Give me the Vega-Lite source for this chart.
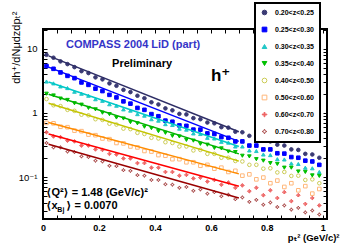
{
"$schema":"https://vega.github.io/schema/vega-lite/v6.json",
"width":284,"height":190,
"autosize":{"type":"none"},
"padding":{"left":43,"top":29,"right":18,"bottom":27},
"background":"white",
"config":{
"view":{"stroke":"black","strokeWidth":2},
"font":"Liberation Sans, Arial, DejaVu Sans",
"axis":{"domain":false,"grid":false,"tickColor":"black","labelColor":"black","titleColor":"black","tickWidth":1},
"legend":{"strokeColor":"black","strokeWidth":2,"fillColor":"white","padding":6,"symbolSize":22,"symbolStrokeWidth":1,"labelFontSize":7,"labelFontWeight":"bold","labelOffset":7,"rowPadding":8}
},
"datasets":{
"pts":[
{"z":"a","x":0.0125,"y":8.1},{"z":"a","x":0.0375,"y":7.3},{"z":"a","x":0.0625,"y":6.4},{"z":"a","x":0.0875,"y":5.8},{"z":"a","x":0.1125,"y":5.2},{"z":"a","x":0.1375,"y":4.5},{"z":"a","x":0.1625,"y":4.2},{"z":"a","x":0.1875,"y":3.6},{"z":"a","x":0.2125,"y":3.35},{"z":"a","x":0.2375,"y":2.9},{"z":"a","x":0.2625,"y":2.66},{"z":"a","x":0.2875,"y":2.3},{"z":"a","x":0.3125,"y":2.12},{"z":"a","x":0.3375,"y":1.86},{"z":"a","x":0.3625,"y":1.7},{"z":"a","x":0.3875,"y":1.47},{"z":"a","x":0.4125,"y":1.36},{"z":"a","x":0.4375,"y":1.18},{"z":"a","x":0.4625,"y":1.1},{"z":"a","x":0.4875,"y":0.97},{"z":"a","x":0.5125,"y":0.95},{"z":"a","x":0.5375,"y":0.83},{"z":"a","x":0.5625,"y":0.8},{"z":"a","x":0.5875,"y":0.71},{"z":"a","x":0.6125,"y":0.69},{"z":"a","x":0.6375,"y":0.6},{"z":"a","x":0.6625,"y":0.59},{"z":"a","x":0.6875,"y":0.51},{"z":"a","x":0.7125,"y":0.5},{"z":"a","x":0.7375,"y":0.44},{"z":"a","x":0.7625,"y":0.43},{"z":"a","x":0.7875,"y":0.37},{"z":"a","x":0.8125,"y":0.36},{"z":"a","x":0.8375,"y":0.32},{"z":"a","x":0.8625,"y":0.31},{"z":"a","x":0.8875,"y":0.27},{"z":"a","x":0.9125,"y":0.265},{"z":"a","x":0.9375,"y":0.23},{"z":"a","x":0.9625,"y":0.225},{"z":"a","x":0.9875,"y":0.2},
{"z":"b","x":0.0125,"y":5.4},{"z":"b","x":0.0375,"y":4.9},{"z":"b","x":0.0625,"y":4.3},{"z":"b","x":0.0875,"y":3.8},{"z":"b","x":0.1125,"y":3.5},{"z":"b","x":0.1375,"y":3.0},{"z":"b","x":0.1625,"y":2.75},{"z":"b","x":0.1875,"y":2.4},{"z":"b","x":0.2125,"y":2.2},{"z":"b","x":0.2375,"y":1.92},{"z":"b","x":0.2625,"y":1.75},{"z":"b","x":0.2875,"y":1.52},{"z":"b","x":0.3125,"y":1.4},{"z":"b","x":0.3375,"y":1.2},{"z":"b","x":0.3625,"y":1.12},{"z":"b","x":0.3875,"y":0.96},{"z":"b","x":0.4125,"y":0.89},{"z":"b","x":0.4375,"y":0.76},{"z":"b","x":0.4625,"y":0.73},{"z":"b","x":0.4875,"y":0.64},{"z":"b","x":0.5125,"y":0.63},{"z":"b","x":0.5375,"y":0.55},{"z":"b","x":0.5625,"y":0.55},{"z":"b","x":0.5875,"y":0.48},{"z":"b","x":0.6125,"y":0.47},{"z":"b","x":0.6375,"y":0.42},{"z":"b","x":0.6625,"y":0.41},{"z":"b","x":0.6875,"y":0.36},{"z":"b","x":0.7125,"y":0.36},{"z":"b","x":0.7375,"y":0.31},{"z":"b","x":0.7625,"y":0.31},{"z":"b","x":0.7875,"y":0.27},{"z":"b","x":0.8125,"y":0.27},{"z":"b","x":0.8375,"y":0.235},{"z":"b","x":0.8625,"y":0.232},{"z":"b","x":0.8875,"y":0.205},{"z":"b","x":0.9125,"y":0.2},{"z":"b","x":0.9375,"y":0.18},{"z":"b","x":0.9625,"y":0.175},{"z":"b","x":0.9875,"y":0.155},
{"z":"c","x":0.0125,"y":3.1},{"z":"c","x":0.0375,"y":2.9},{"z":"c","x":0.0625,"y":2.6},{"z":"c","x":0.0875,"y":2.45},{"z":"c","x":0.1125,"y":2.15},{"z":"c","x":0.1375,"y":2.0},{"z":"c","x":0.1625,"y":1.86},{"z":"c","x":0.1875,"y":1.64},{"z":"c","x":0.2125,"y":1.55},{"z":"c","x":0.2375,"y":1.37},{"z":"c","x":0.2625,"y":1.3},{"z":"c","x":0.2875,"y":1.14},{"z":"c","x":0.3125,"y":1.09},{"z":"c","x":0.3375,"y":0.96},{"z":"c","x":0.3625,"y":0.91},{"z":"c","x":0.3875,"y":0.8},{"z":"c","x":0.4125,"y":0.76},{"z":"c","x":0.4375,"y":0.67},{"z":"c","x":0.4625,"y":0.65},{"z":"c","x":0.4875,"y":0.57},{"z":"c","x":0.5125,"y":0.55},{"z":"c","x":0.5375,"y":0.48},{"z":"c","x":0.5625,"y":0.47},{"z":"c","x":0.5875,"y":0.41},{"z":"c","x":0.6125,"y":0.4},{"z":"c","x":0.6375,"y":0.355},{"z":"c","x":0.6625,"y":0.345},{"z":"c","x":0.6875,"y":0.3},{"z":"c","x":0.7125,"y":0.3},{"z":"c","x":0.7375,"y":0.26},{"z":"c","x":0.7625,"y":0.255},{"z":"c","x":0.7875,"y":0.225},{"z":"c","x":0.8125,"y":0.22},{"z":"c","x":0.8375,"y":0.19},{"z":"c","x":0.8625,"y":0.188},{"z":"c","x":0.8875,"y":0.163},{"z":"c","x":0.9125,"y":0.16},{"z":"c","x":0.9375,"y":0.14},{"z":"c","x":0.9625,"y":0.137},{"z":"c","x":0.9875,"y":0.12},
{"z":"d","x":0.0125,"y":2.0},{"z":"d","x":0.0375,"y":1.88},{"z":"d","x":0.0625,"y":1.68},{"z":"d","x":0.0875,"y":1.6},{"z":"d","x":0.1125,"y":1.42},{"z":"d","x":0.1375,"y":1.35},{"z":"d","x":0.1625,"y":1.2},{"z":"d","x":0.1875,"y":1.14},{"z":"d","x":0.2125,"y":1.01},{"z":"d","x":0.2375,"y":0.96},{"z":"d","x":0.2625,"y":0.85},{"z":"d","x":0.2875,"y":0.82},{"z":"d","x":0.3125,"y":0.72},{"z":"d","x":0.3375,"y":0.69},{"z":"d","x":0.3625,"y":0.61},{"z":"d","x":0.3875,"y":0.58},{"z":"d","x":0.4125,"y":0.52},{"z":"d","x":0.4375,"y":0.49},{"z":"d","x":0.4625,"y":0.44},{"z":"d","x":0.4875,"y":0.43},{"z":"d","x":0.5125,"y":0.38},{"z":"d","x":0.5375,"y":0.37},{"z":"d","x":0.5625,"y":0.33},{"z":"d","x":0.5875,"y":0.32},{"z":"d","x":0.6125,"y":0.285},{"z":"d","x":0.6375,"y":0.28},{"z":"d","x":0.6625,"y":0.25},{"z":"d","x":0.6875,"y":0.245},{"z":"d","x":0.7125,"y":0.215},{"z":"d","x":0.7375,"y":0.21},{"z":"d","x":0.7625,"y":0.19},{"z":"d","x":0.7875,"y":0.18},{"z":"d","x":0.8125,"y":0.165},{"z":"d","x":0.8375,"y":0.16},{"z":"d","x":0.8625,"y":0.14},{"z":"d","x":0.8875,"y":0.14},{"z":"d","x":0.9125,"y":0.122},{"z":"d","x":0.9375,"y":0.12},{"z":"d","x":0.9625,"y":0.106},{"z":"d","x":0.9875,"y":0.104},
{"z":"e","x":0.0125,"y":1.65},{"z":"e","x":0.0375,"y":1.32},{"z":"e","x":0.0625,"y":1.28},{"z":"e","x":0.0875,"y":1.12},{"z":"e","x":0.1125,"y":1.08},{"z":"e","x":0.1375,"y":0.94},{"z":"e","x":0.1625,"y":0.92},{"z":"e","x":0.1875,"y":0.8},{"z":"e","x":0.2125,"y":0.78},{"z":"e","x":0.2375,"y":0.68},{"z":"e","x":0.2625,"y":0.66},{"z":"e","x":0.2875,"y":0.57},{"z":"e","x":0.3125,"y":0.56},{"z":"e","x":0.3375,"y":0.49},{"z":"e","x":0.3625,"y":0.47},{"z":"e","x":0.3875,"y":0.41},{"z":"e","x":0.4125,"y":0.4},{"z":"e","x":0.4375,"y":0.35},{"z":"e","x":0.4625,"y":0.34},{"z":"e","x":0.4875,"y":0.3},{"z":"e","x":0.5125,"y":0.3},{"z":"e","x":0.5375,"y":0.26},{"z":"e","x":0.5625,"y":0.265},{"z":"e","x":0.5875,"y":0.23},{"z":"e","x":0.6125,"y":0.23},{"z":"e","x":0.6375,"y":0.2},{"z":"e","x":0.6625,"y":0.2},{"z":"e","x":0.6875,"y":0.178},{"z":"e","x":0.7125,"y":0.175},{"z":"e","x":0.7375,"y":0.155},{"z":"e","x":0.7625,"y":0.155},{"z":"e","x":0.7875,"y":0.135},{"z":"e","x":0.8125,"y":0.137},{"z":"e","x":0.8375,"y":0.118},{"z":"e","x":0.8625,"y":0.12},{"z":"e","x":0.8875,"y":0.104},{"z":"e","x":0.9125,"y":0.105},{"z":"e","x":0.9375,"y":0.09},{"z":"e","x":0.9625,"y":0.092},{"z":"e","x":0.9875,"y":0.08},
{"z":"f","x":0.0125,"y":0.7},{"z":"f","x":0.0375,"y":0.69},{"z":"f","x":0.0625,"y":0.61},{"z":"f","x":0.0875,"y":0.6},{"z":"f","x":0.1125,"y":0.53},{"z":"f","x":0.1375,"y":0.52},{"z":"f","x":0.1625,"y":0.46},{"z":"f","x":0.1875,"y":0.45},{"z":"f","x":0.2125,"y":0.4},{"z":"f","x":0.2375,"y":0.39},{"z":"f","x":0.2625,"y":0.34},{"z":"f","x":0.2875,"y":0.335},{"z":"f","x":0.3125,"y":0.3},{"z":"f","x":0.3375,"y":0.29},{"z":"f","x":0.3625,"y":0.255},{"z":"f","x":0.3875,"y":0.25},{"z":"f","x":0.4125,"y":0.22},{"z":"f","x":0.4375,"y":0.215},{"z":"f","x":0.4625,"y":0.19},{"z":"f","x":0.4875,"y":0.19},{"z":"f","x":0.5125,"y":0.17},{"z":"f","x":0.5375,"y":0.17},{"z":"f","x":0.5625,"y":0.15},{"z":"f","x":0.5875,"y":0.155},{"z":"f","x":0.6125,"y":0.135},{"z":"f","x":0.6375,"y":0.14},{"z":"f","x":0.6625,"y":0.12},{"z":"f","x":0.6875,"y":0.125},{"z":"f","x":0.7125,"y":0.105},{"z":"f","x":0.7375,"y":0.11},{"z":"f","x":0.7625,"y":0.092},{"z":"f","x":0.7875,"y":0.098},{"z":"f","x":0.8125,"y":0.08},{"z":"f","x":0.8375,"y":0.088},{"z":"f","x":0.8625,"y":0.07},{"z":"f","x":0.8875,"y":0.08},{"z":"f","x":0.9125,"y":0.062},{"z":"f","x":0.9375,"y":0.072},{"z":"f","x":0.9625,"y":0.055},{"z":"f","x":0.9875,"y":0.065},
{"z":"g","x":0.0125,"y":0.5},{"z":"g","x":0.0375,"y":0.43},{"z":"g","x":0.0625,"y":0.42},{"z":"g","x":0.0875,"y":0.37},{"z":"g","x":0.1125,"y":0.36},{"z":"g","x":0.1375,"y":0.31},{"z":"g","x":0.1625,"y":0.31},{"z":"g","x":0.1875,"y":0.27},{"z":"g","x":0.2125,"y":0.265},{"z":"g","x":0.2375,"y":0.23},{"z":"g","x":0.2625,"y":0.225},{"z":"g","x":0.2875,"y":0.195},{"z":"g","x":0.3125,"y":0.195},{"z":"g","x":0.3375,"y":0.165},{"z":"g","x":0.3625,"y":0.165},{"z":"g","x":0.3875,"y":0.14},{"z":"g","x":0.4125,"y":0.14},{"z":"g","x":0.4375,"y":0.12},{"z":"g","x":0.4625,"y":0.12},{"z":"g","x":0.4875,"y":0.105},{"z":"g","x":0.5125,"y":0.108},{"z":"g","x":0.5375,"y":0.095},{"z":"g","x":0.5625,"y":0.098},{"z":"g","x":0.5875,"y":0.085},{"z":"g","x":0.6125,"y":0.09},{"z":"g","x":0.6375,"y":0.076},{"z":"g","x":0.6625,"y":0.082},{"z":"g","x":0.6875,"y":0.068},{"z":"g","x":0.7125,"y":0.074},{"z":"g","x":0.7375,"y":0.06},{"z":"g","x":0.7625,"y":0.068},{"z":"g","x":0.7875,"y":0.052},{"z":"g","x":0.8125,"y":0.062},{"z":"g","x":0.8375,"y":0.047},{"z":"g","x":0.8625,"y":0.058},{"z":"g","x":0.8875,"y":0.042},{"z":"g","x":0.9125,"y":0.052},{"z":"g","x":0.9375,"y":0.038},{"z":"g","x":0.9625,"y":0.047},{"z":"g","x":0.9875,"y":0.036},
{"z":"h","x":0.0125,"y":0.34},{"z":"h","x":0.0375,"y":0.29},{"z":"h","x":0.0625,"y":0.29},{"z":"h","x":0.0875,"y":0.25},{"z":"h","x":0.1125,"y":0.245},{"z":"h","x":0.1375,"y":0.21},{"z":"h","x":0.1625,"y":0.205},{"z":"h","x":0.1875,"y":0.18},{"z":"h","x":0.2125,"y":0.175},{"z":"h","x":0.2375,"y":0.15},{"z":"h","x":0.2625,"y":0.148},{"z":"h","x":0.2875,"y":0.128},{"z":"h","x":0.3125,"y":0.125},{"z":"h","x":0.3375,"y":0.107},{"z":"h","x":0.3625,"y":0.105},{"z":"h","x":0.3875,"y":0.09},{"z":"h","x":0.4125,"y":0.09},{"z":"h","x":0.4375,"y":0.077},{"z":"h","x":0.4625,"y":0.076},{"z":"h","x":0.4875,"y":0.068},{"z":"h","x":0.5125,"y":0.07},{"z":"h","x":0.5375,"y":0.061},{"z":"h","x":0.5625,"y":0.064},{"z":"h","x":0.5875,"y":0.055},{"z":"h","x":0.6125,"y":0.058},{"z":"h","x":0.6375,"y":0.05},{"z":"h","x":0.6625,"y":0.053},{"z":"h","x":0.6875,"y":0.045},{"z":"h","x":0.7125,"y":0.048},{"z":"h","x":0.7375,"y":0.041},{"z":"h","x":0.7625,"y":0.044},{"z":"h","x":0.7875,"y":0.037},{"z":"h","x":0.8125,"y":0.04},{"z":"h","x":0.8375,"y":0.034},{"z":"h","x":0.8625,"y":0.036},{"z":"h","x":0.8875,"y":0.031},{"z":"h","x":0.9125,"y":0.033},{"z":"h","x":0.9375,"y":0.028},{"z":"h","x":0.9625,"y":0.03},{"z":"h","x":0.9875,"y":0.026}
],
"fit":[
{"z":"a","x":0.02,"y":7.8},{"z":"a","x":0.7,"y":0.51},
{"z":"b","x":0.02,"y":5.2},{"z":"b","x":0.7,"y":0.36},
{"z":"c","x":0.02,"y":3.05},{"z":"c","x":0.7,"y":0.3},
{"z":"d","x":0.02,"y":1.96},{"z":"d","x":0.7,"y":0.23},
{"z":"e","x":0.02,"y":1.42},{"z":"e","x":0.7,"y":0.177},
{"z":"f","x":0.02,"y":0.71},{"z":"f","x":0.7,"y":0.112},
{"z":"g","x":0.02,"y":0.47},{"z":"g","x":0.7,"y":0.072},
{"z":"h","x":0.02,"y":0.326},{"z":"h","x":0.7,"y":0.047}
]
},
"layer":[
{"data":{"name":"pts"},
"mark":{"type":"point","opacity":1,"strokeWidth":1,"size":13},
"encoding":{
"x":{"field":"x","type":"quantitative","scale":{"domain":[0,1.015],"nice":false,"zero":false},
"axis":{"orient":"bottom","values":[0,0.05,0.1,0.15,0.2,0.25,0.3,0.35,0.4,0.45,0.5,0.55,0.6,0.65,0.7,0.75,0.8,0.85,0.9,0.95,1],"format":".1~f","labelExpr":"abs(datum.value*5-round(datum.value*5))<0.001 ? datum.label : ''","tickSize":-4,"labelPadding":8,"labelFontSize":9,"labelFontWeight":"bold","labelFlush":false,"labelOverlap":false,"title":"pₜ² (GeV/c)²","titleFontSize":9.5,"titleFontWeight":"bold","titleAnchor":"end","titleAlign":"right","titleBaseline":"alphabetic","titleX":296,"titleY":21}},
"y":{"field":"y","type":"quantitative","scale":{"type":"log","domain":[0.0221,20.5],"nice":false},
"axis":{"orient":"left","values":[0.03,0.04,0.05,0.06,0.07,0.08,0.09,0.1,0.2,0.3,0.4,0.5,0.6,0.7,0.8,0.9,1,2,3,4,5,6,7,8,9,10,20],"labelExpr":"datum.value==0.1 ? '10⁻¹' : datum.value==1 ? '1' : datum.value==10 ? '10' : ''","tickSize":-4,"labelPadding":10,"labelFontSize":9.5,"labelOverlap":false,"labelFlush":false,"labelBound":false,"title":"dh⁺/dNμdzdpₜ²","titleFontSize":11,"titleFontWeight":"normal","titleAngle":-90,"titleAnchor":"end","titleAlign":"right","titleBaseline":"middle","titleX":-27,"titleY":-18}},
"stroke":{"field":"z","type":"nominal","scale":{"domain":["a","b","c","d","e","f","g","h"],"range":["#3a3a74","#0000ff","#22c8c8","#00c000","#cccc55","#ffb77a","#ee6464","#aa4a4a"]},
"legend":{"title":null,"orient":"none","legendX":212,"legendY":-26,"labelExpr":"datum.label=='a'?'0.20<z<0.25':datum.label=='b'?'0.25<z<0.30':datum.label=='c'?'0.30<z<0.35':datum.label=='d'?'0.35<z<0.40':datum.label=='e'?'0.40<z<0.50':datum.label=='f'?'0.50<z<0.60':datum.label=='g'?'0.60<z<0.70':'0.70<z<0.80'"}},
"fill":{"field":"z","type":"nominal","scale":{"domain":["a","b","c","d","e","f","g","h"],"range":["#3a3a74","#0000ff","#22c8c8","#00c000","transparent","transparent","transparent","transparent"]},
"legend":{"title":null,"orient":"none","legendX":212,"legendY":-26,"labelExpr":"datum.label=='a'?'0.20<z<0.25':datum.label=='b'?'0.25<z<0.30':datum.label=='c'?'0.30<z<0.35':datum.label=='d'?'0.35<z<0.40':datum.label=='e'?'0.40<z<0.50':datum.label=='f'?'0.50<z<0.60':datum.label=='g'?'0.60<z<0.70':'0.70<z<0.80'"}},
"shape":{"field":"z","type":"nominal","scale":{"domain":["a","b","c","d","e","f","g","h"],"range":["circle","square","triangle-up","triangle-down","circle","square","M0,-1L1,0L0,1L-1,0Z M0,-1L0,1 M-1,0L1,0","M0,-1L0.3,-0.3L1,0L0.3,0.3L0,1L-0.3,0.3L-1,0L-0.3,-0.3Z"]},
"legend":{"title":null,"orient":"none","legendX":212,"legendY":-26,"labelExpr":"datum.label=='a'?'0.20<z<0.25':datum.label=='b'?'0.25<z<0.30':datum.label=='c'?'0.30<z<0.35':datum.label=='d'?'0.35<z<0.40':datum.label=='e'?'0.40<z<0.50':datum.label=='f'?'0.50<z<0.60':datum.label=='g'?'0.60<z<0.70':'0.70<z<0.80'"}}
}},
{"data":{"name":"fit"},
"mark":{"type":"line","strokeWidth":1.5},
"encoding":{
"x":{"field":"x","type":"quantitative","axis":{"orient":"top","values":[0,0.05,0.1,0.15,0.2,0.25,0.3,0.35,0.4,0.45,0.5,0.55,0.6,0.65,0.7,0.75,0.8,0.85,0.9,0.95,1],"labels":false,"tickSize":-4,"title":null}},
"y":{"field":"y","type":"quantitative","axis":{"orient":"right","values":[0.03,0.04,0.05,0.06,0.07,0.08,0.09,0.1,0.2,0.3,0.4,0.5,0.6,0.7,0.8,0.9,1,2,3,4,5,6,7,8,9,10,20],"labels":false,"tickSize":-4,"title":null}},
"color":{"field":"z","type":"nominal","scale":{"domain":["a","b","c","d","e","f","g","h"],"range":["#2e2e66","#0000ff","#00c8c8","#00b400","#c4c400","#ff8c00","#ff0000","#990000"]},"legend":null}
}},
{"data":{"values":[{}]},"mark":{"type":"text","text":"COMPASS 2004 LiD (part)","align":"left","baseline":"alphabetic","fontSize":11,"fontWeight":"bold","color":"#3535c8"},
"encoding":{"x":{"datum":0.082,"type":"quantitative","axis":null},"y":{"datum":10.4,"type":"quantitative","axis":null}}},
{"data":{"values":[{}]},"mark":{"type":"text","text":"Preliminary","align":"left","baseline":"alphabetic","fontSize":11,"fontWeight":"bold","color":"black"},
"encoding":{"x":{"datum":0.247,"type":"quantitative","axis":null},"y":{"datum":5.2,"type":"quantitative","axis":null}}},
{"data":{"values":[{}]},"mark":{"type":"text","text":"h⁺","align":"left","baseline":"alphabetic","fontSize":17,"fontWeight":"bold","color":"black"},
"encoding":{"x":{"datum":0.6,"type":"quantitative","axis":null},"y":{"datum":3.2,"type":"quantitative","axis":null}}},
{"data":{"values":[{}]},"mark":{"type":"text","text":"⟨Q²⟩ = 1.48 (GeV/c)²","align":"left","baseline":"alphabetic","fontSize":11,"fontWeight":"bold","color":"black"},
"encoding":{"x":{"datum":0.012,"type":"quantitative","axis":null},"y":{"datum":0.0505,"type":"quantitative","axis":null}}},
{"data":{"values":[{}]},"mark":{"type":"text","text":"⟨x","align":"left","baseline":"alphabetic","fontSize":11,"fontWeight":"bold","color":"black"},
"encoding":{"x":{"datum":0.012,"type":"quantitative","axis":null},"y":{"datum":0.0316,"type":"quantitative","axis":null}}},
{"data":{"values":[{}]},"mark":{"type":"text","text":"Bj","align":"left","baseline":"alphabetic","fontSize":7,"fontWeight":"bold","color":"black","dx":11,"dy":3},
"encoding":{"x":{"datum":0.012,"type":"quantitative","axis":null},"y":{"datum":0.0316,"type":"quantitative","axis":null}}},
{"data":{"values":[{}]},"mark":{"type":"text","text":"⟩ = 0.0070","align":"left","baseline":"alphabetic","fontSize":11,"fontWeight":"bold","color":"black","dx":20},
"encoding":{"x":{"datum":0.012,"type":"quantitative","axis":null},"y":{"datum":0.0316,"type":"quantitative","axis":null}}}
],
"resolve":{"axis":{"x":"independent","y":"independent"}}
}
